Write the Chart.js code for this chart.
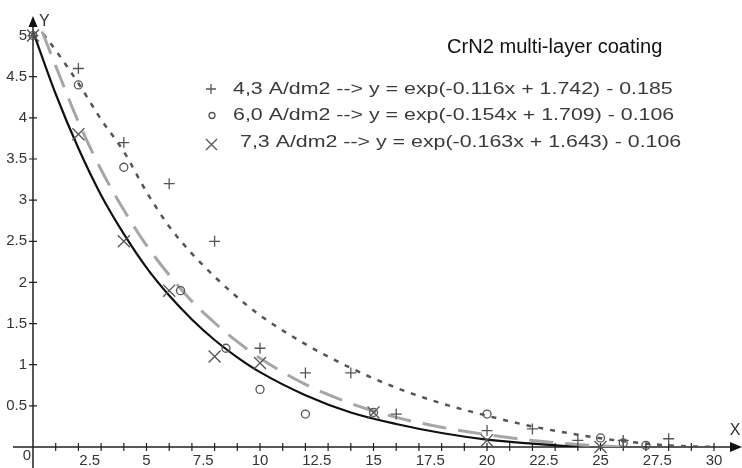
<!DOCTYPE html>
<html><head><meta charset="utf-8">
<script src="https://cdn.jsdelivr.net/npm/chart.js@4.4.1/dist/chart.umd.min.js"></script>
<style>html,body{margin:0;padding:0;background:#fff}#wrap{width:742px;height:468px;position:relative}</style>
</head><body><div id="wrap"><canvas id="c"></canvas></div>
<script>
// ---- text ----
const chartTitle = 'CrN2 multi-layer coating';
const seriesLabels = ['4,3 A/dm2', '6,0 A/dm2', '7,3 A/dm2'];
const fitLabels = [
  'y = exp(-0.116x + 1.742) - 0.185',
  'y = exp(-0.154x + 1.709) - 0.106',
  'y = exp(-0.163x + 1.643) - 0.106'
];
const xAxisName = 'X';
const yAxisName = 'Y';

// ---- tick labels ----
const xTicks = [2.5, 5, 7.5, 10, 12.5, 15, 17.5, 20, 22.5, 25, 27.5, 30];
const yTicks = [0.5, 1, 1.5, 2, 2.5, 3, 3.5, 4, 4.5, 5];

// ---- measured points ----
const s43X = [0, 2, 4, 6, 8, 10, 12, 14, 16, 20, 22, 24, 26, 28];
const s43Y = [5, 4.6, 3.7, 3.2, 2.5, 1.2, 0.9, 0.9, 0.4, 0.2, 0.22, 0.08, 0.08, 0.1];
const s60X = [0, 2, 4, 6.5, 8.5, 10, 12, 15, 20, 25, 26, 27];
const s60Y = [5, 4.4, 3.4, 1.9, 1.2, 0.7, 0.4, 0.42, 0.4, 0.11, 0.05, 0.02];
const s73X = [0, 2, 4, 6, 8, 10, 15, 20, 25];
const s73Y = [5, 3.8, 2.5, 1.9, 1.1, 1.02, 0.42, 0.08, 0.0];

// ---- fitted curves ----
const fit43X = [0.45, 1, 2, 3, 4, 5, 6, 7, 8, 9, 10, 12, 14, 16, 18, 20, 22, 24, 26, 28, 30];
const fit43Y = [5.02, 4.82, 4.42, 3.98, 3.59, 3.10, 2.68, 2.35, 2.07, 1.82, 1.60, 1.25, 0.96, 0.72, 0.53, 0.38, 0.25, 0.15, 0.07, 0.02, 0.0];
const fit60X = [0.4, 1, 2, 3, 4, 5, 6, 7, 8, 9, 10, 12, 14, 16, 18, 20, 22, 24, 26];
const fit60Y = [5.05, 4.63, 3.95, 3.37, 2.88, 2.45, 2.09, 1.77, 1.51, 1.28, 1.08, 0.76, 0.53, 0.36, 0.24, 0.15, 0.08, 0.03, 0.0];
const fit73X = [0, 1, 2, 3, 4, 5, 6, 7, 8, 9, 10, 12, 14, 16, 18, 20, 22, 24];
const fit73Y = [5.05, 4.29, 3.63, 3.06, 2.59, 2.18, 1.84, 1.55, 1.30, 1.09, 0.91, 0.63, 0.42, 0.28, 0.17, 0.09, 0.04, 0.0];

const pts = (xs, ys) => xs.map((v, i) => ({x: v, y: ys[i]}));

Chart.defaults.font.family = "'Liberation Sans', Arial, sans-serif";
Chart.defaults.color = '#333';

const markColor = '#555';

const decor = {
  id: 'decor',
  beforeDatasetsDraw(chart) {
    const {ctx, scales: {x, y}, chartArea} = chart;
    const x0 = x.getPixelForValue(0), y0 = y.getPixelForValue(0);
    ctx.save();
    ctx.strokeStyle = '#222';
    ctx.fillStyle = '#111';
    ctx.lineWidth = 1.5;
    ctx.beginPath();
    ctx.moveTo(x0, chart.height);
    ctx.lineTo(x0, chartArea.top + 8);
    ctx.moveTo(x0 - 20, y0);
    ctx.lineTo(chart.width - 10, y0);
    ctx.stroke();
    ctx.beginPath();
    ctx.moveTo(x0, chartArea.top + 1);
    ctx.lineTo(x0 - 4.5, chartArea.top + 12);
    ctx.lineTo(x0 + 4.5, chartArea.top + 12);
    ctx.closePath();
    ctx.fill();
    ctx.beginPath();
    ctx.moveTo(chart.width, y0);
    ctx.lineTo(chart.width - 12, y0 - 5);
    ctx.lineTo(chart.width - 12, y0 + 5);
    ctx.closePath();
    ctx.fill();
    ctx.lineWidth = 1.2;
    ctx.beginPath();
    for (let v = 1; v <= 30; v++) {
      const px = x.getPixelForValue(v);
      ctx.moveTo(px, y0 - 4);
      ctx.lineTo(px, y0 + 4);
    }
    yTicks.forEach(v => {
      const py = y.getPixelForValue(v);
      ctx.moveTo(x0 - 4, py);
      ctx.lineTo(x0 + 4, py);
    });
    ctx.stroke();
    ctx.fillStyle = '#333';
    ctx.font = "15px 'Liberation Sans', Arial, sans-serif";
    ctx.textAlign = 'right';
    ctx.textBaseline = 'middle';
    ctx.fillText('0', x0 - 2, y0 + 9);
    ctx.font = "16px 'Liberation Sans', Arial, sans-serif";
    ctx.textAlign = 'left';
    ctx.fillText(yAxisName, x0 + 6, chartArea.top + 7);
    ctx.textAlign = 'center';
    ctx.fillText(xAxisName, chart.width - 7, y0 - 16);
    ctx.restore();
  },
  afterDraw(chart) {
    const {ctx} = chart;
    ctx.save();
    ctx.fillStyle = '#111';
    ctx.textBaseline = 'alphabetic';
    ctx.textAlign = 'left';
    ctx.font = "19.5px 'Liberation Sans', Arial, sans-serif";
    ctx.save();
    ctx.translate(447, 53);
    ctx.scale(1.03, 1);
    ctx.fillText(chartTitle, 0, 0);
    ctx.restore();
    const baselines = [94, 120, 147];
    const lefts = [233, 233, 240];
    ctx.font = "16.5px 'Liberation Sans', Arial, sans-serif";
    seriesLabels.forEach((lab, i) => {
      ctx.fillStyle = '#3a3a3a';
      ctx.save();
      ctx.translate(lefts[i], baselines[i]);
      ctx.scale(1.295, 1);
      ctx.fillText(lab + ' --> ' + fitLabels[i], 0, 0);
      ctx.restore();
    });
    ctx.strokeStyle = markColor;
    ctx.lineWidth = 1.3;
    ctx.beginPath();
    ctx.moveTo(206, 89); ctx.lineTo(216, 89);
    ctx.moveTo(211, 84); ctx.lineTo(211, 94);
    ctx.stroke();
    ctx.beginPath();
    ctx.arc(212, 115.5, 3, 0, Math.PI * 2);
    ctx.stroke();
    ctx.beginPath();
    ctx.moveTo(206, 139); ctx.lineTo(217, 150);
    ctx.moveTo(217, 139); ctx.lineTo(206, 150);
    ctx.stroke();
    ctx.restore();
  }
};

new Chart(document.getElementById('c'), {
  type: 'scatter',
  data: {
    datasets: [
      {label: seriesLabels[0] + ' fit', data: pts(fit43X, fit43Y), showLine: true, borderColor: '#555', borderWidth: 2.5, borderDash: [5, 7], pointRadius: 0, cubicInterpolationMode: 'monotone', fill: false, order: 5},
      {label: seriesLabels[1] + ' fit', data: pts(fit60X, fit60Y), showLine: true, borderColor: '#a6a6a6', borderWidth: 3, borderDash: [24, 12], pointRadius: 0, cubicInterpolationMode: 'monotone', fill: false, order: 4},
      {label: seriesLabels[2] + ' fit', data: pts(fit73X, fit73Y), showLine: true, borderColor: '#111', borderWidth: 2.2, pointRadius: 0, cubicInterpolationMode: 'monotone', fill: false, order: 3},
      {label: seriesLabels[0], data: pts(s43X, s43Y), pointStyle: 'cross', pointRadius: 5.5, pointBorderColor: markColor, pointBorderWidth: 1.3, borderColor: markColor, backgroundColor: 'transparent', clip: false, order: 1},
      {label: seriesLabels[1], data: pts(s60X, s60Y), pointStyle: 'circle', pointRadius: 4, pointBorderColor: markColor, pointBorderWidth: 1.3, borderColor: markColor, backgroundColor: 'transparent', pointBackgroundColor: 'transparent', clip: false, order: 1},
      {label: seriesLabels[2], data: pts(s73X, s73Y), pointStyle: 'crossRot', pointRadius: 8.5, pointBorderColor: markColor, pointBorderWidth: 1.3, borderColor: markColor, backgroundColor: 'transparent', clip: false, order: 1}
    ]
  },
  options: {
    responsive: true,
    maintainAspectRatio: false,
    animation: false,
    events: [],
    layout: {padding: {top: 9, left: 0, right: 0, bottom: 0}},
    plugins: {legend: {display: false}, title: {display: false}, tooltip: {enabled: false}},
    scales: {
      x: {
        type: 'linear', min: 0, max: 30.8,
        grid: {display: false, drawTicks: false},
        border: {display: false},
        afterBuildTicks: s => { s.ticks = xTicks.map(v => ({value: v})); },
        afterFit: s => { s.height = 21; },
        ticks: {autoSkip: false, maxRotation: 0, padding: 5, color: '#333', font: {size: 15}, callback: v => String(v)}
      },
      y: {
        type: 'linear', min: 0, max: 5.25,
        grid: {display: false, drawTicks: false},
        border: {display: false},
        afterBuildTicks: s => { s.ticks = yTicks.map(v => ({value: v})); },
        afterFit: s => { s.width = 33; },
        ticks: {autoSkip: false, padding: 6, color: '#333', font: {size: 15}, callback: v => String(v)}
      }
    }
  },
  plugins: [decor]
});
</script>
</body></html>
